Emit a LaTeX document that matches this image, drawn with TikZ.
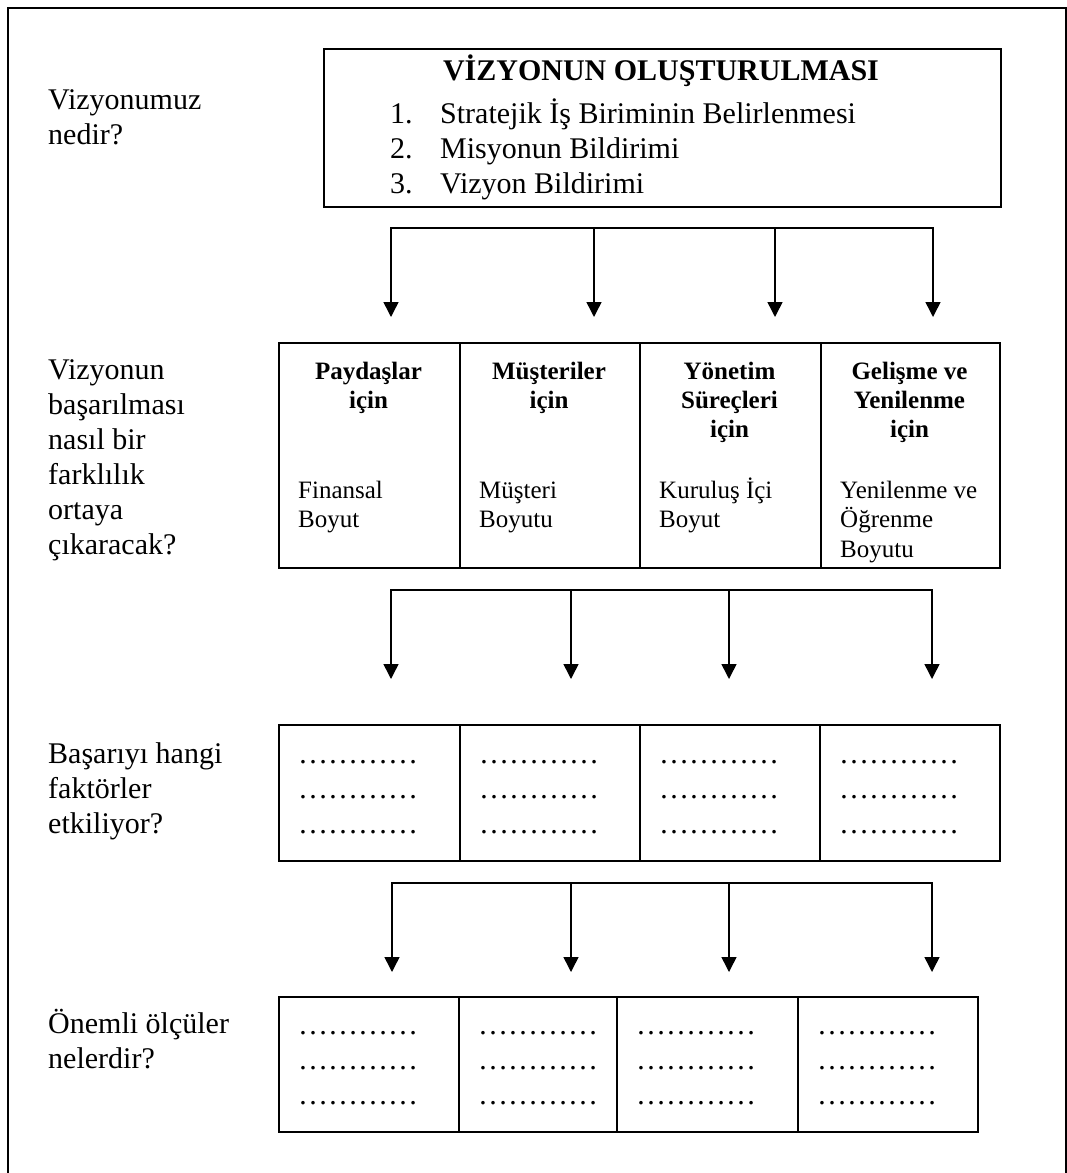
\documentclass[tikz,border=0pt]{standalone}
\usepackage{fontspec}
\setmainfont{Liberation Serif}
\usetikzlibrary{arrows.meta}

\begin{document}
\begin{tikzpicture}
	[x=1pt,y=-1pt,every node/.style={inner sep=0pt,font=\fontsize{30}{35}\selectfont}]
	\tikzstyle{cell} = [draw, line width=2pt, anchor=north west];
	\tikzstyle{edges} = [line width=1.5pt];
	\tikzstyle{tip} = [-{Triangle[length=15pt,width=15pt]}];
	\tikzstyle{twotip} = [{Triangle[length=15pt,width=15pt]}-{Triangle[length=15pt,width=15pt]}];
	\tikzstyle{head} = [anchor=base, align=center, font=\fontsize{25}{29}\selectfont\bfseries];
	\tikzstyle{dim} = [anchor=base west, align=left, font=\fontsize{25}{29.5}\selectfont];
	\tikzstyle{quest} = [anchor=base west, align=left];
	
	\useasboundingbox (0,0) rectangle (1067,1173);
	\draw[line width=1.8pt] (8,1173) -- (8,8) -- (1066,8) -- (1066,1173);
	
	\node[cell, minimum width=677, minimum height=158] (vb) at (323,48) {};
	\node[anchor=base, font=\fontsize{30}{35}\selectfont\bfseries] (vt) at (661,80) {VİZYONUN OLUŞTURULMASI};
	\node[quest] (vn) at (390,193) {1.\\2.\\3.};
	\node[quest] (vl) at (440,193) {Stratejik İş Biriminin Belirlenmesi\\Misyonun Bildirimi\\Vizyon Bildirimi};
	
	\node[quest] (q1) at (48,144) {Vizyonumuz\\nedir?};
	\node[quest] (q2) at (48,554) {Vizyonun\\başarılması\\nasıl bir\\farklılık\\ortaya\\çıkaracak?};
	\node[quest] (q3) at (48,833) {Başarıyı hangi\\faktörler\\etkiliyor?};
	\node[quest] (q4) at (48,1068) {Önemli ölçüler\\nelerdir?};
	
	\node[cell, minimum width=181, minimum height=225] (b1) at (278,342) {};
	\node[cell, minimum width=180, minimum height=225] (b2) at (459,342) {};
	\node[cell, minimum width=181, minimum height=225] (b3) at (639,342) {};
	\node[cell, minimum width=179, minimum height=225] (b4) at (820,342) {};
	
	\node[head] (h1) at (368.5,408) {Paydaşlar\\için};
	\node[head] (h2) at (549,408) {Müşteriler\\için};
	\node[head] (h3) at (729.5,437) {Yönetim\\Süreçleri\\için};
	\node[head] (h4) at (909.5,437) {Gelişme ve\\Yenilenme\\için};
	
	\node[dim] (d1) at (298,527.5) {Finansal\\Boyut};
	\node[dim] (d2) at (479,527.5) {Müşteri\\Boyutu};
	\node[dim] (d3) at (659,527.5) {Kuruluş İçi\\Boyut};
	\node[dim] (d4) at (840,557) {Yenilenme ve\\Öğrenme\\Boyutu};
	
	\node[cell, minimum width=181, minimum height=136] (f1) at (278,724) {};
	\node[cell, minimum width=180, minimum height=136] (f2) at (459,724) {};
	\node[cell, minimum width=180, minimum height=136] (f3) at (639,724) {};
	\node[cell, minimum width=180, minimum height=136] (f4) at (819,724) {};
	
	\node[quest] (fd1) at (298,833) {…………\\…………\\…………};
	\node[quest] (fd2) at (479,833) {…………\\…………\\…………};
	\node[quest] (fd3) at (659,833) {…………\\…………\\…………};
	\node[quest] (fd4) at (839,833) {…………\\…………\\…………};
	
	\node[cell, minimum width=180, minimum height=135] (m1) at (278,996) {};
	\node[cell, minimum width=158, minimum height=135] (m2) at (458,996) {};
	\node[cell, minimum width=181, minimum height=135] (m3) at (616,996) {};
	\node[cell, minimum width=180, minimum height=135] (m4) at (797,996) {};
	
	\node[quest] (md1) at (298,1104) {…………\\…………\\…………};
	\node[quest] (md2) at (478,1104) {…………\\…………\\…………};
	\node[quest] (md3) at (636,1104) {…………\\…………\\…………};
	\node[quest] (md4) at (817,1104) {…………\\…………\\…………};
	
	\coordinate (s11) at (391,228);
	\coordinate (s12) at (594,228);
	\coordinate (s13) at (775,228);
	\coordinate (s14) at (933,228);
	\coordinate (e11) at (391,317);
	\coordinate (e12) at (594,317);
	\coordinate (e13) at (775,317);
	\coordinate (e14) at (933,317);
	
	\coordinate (s21) at (391,590);
	\coordinate (s22) at (571,590);
	\coordinate (s23) at (729,590);
	\coordinate (s24) at (932,590);
	\coordinate (e21) at (391,679);
	\coordinate (e22) at (571,679);
	\coordinate (e23) at (729,679);
	\coordinate (e24) at (932,679);
	
	\coordinate (s31) at (392,883);
	\coordinate (s32) at (571,883);
	\coordinate (s33) at (729,883);
	\coordinate (s34) at (932,883);
	\coordinate (e31) at (392,972);
	\coordinate (e32) at (571,972);
	\coordinate (e33) at (729,972);
	\coordinate (e34) at (932,972);
	
	\draw[edges,twotip] (e11) -- (s11) -- (s14) -- (e14);
	\draw[edges,tip] (s12) -- (e12);
	\draw[edges,tip] (s13) -- (e13);
	\draw[edges,twotip] (e21) -- (s21) -- (s24) -- (e24);
	\draw[edges,tip] (s22) -- (e22);
	\draw[edges,tip] (s23) -- (e23);
	\draw[edges,twotip] (e31) -- (s31) -- (s34) -- (e34);
	\draw[edges,tip] (s32) -- (e32);
	\draw[edges,tip] (s33) -- (e33);
\end{tikzpicture}
\end{document}
